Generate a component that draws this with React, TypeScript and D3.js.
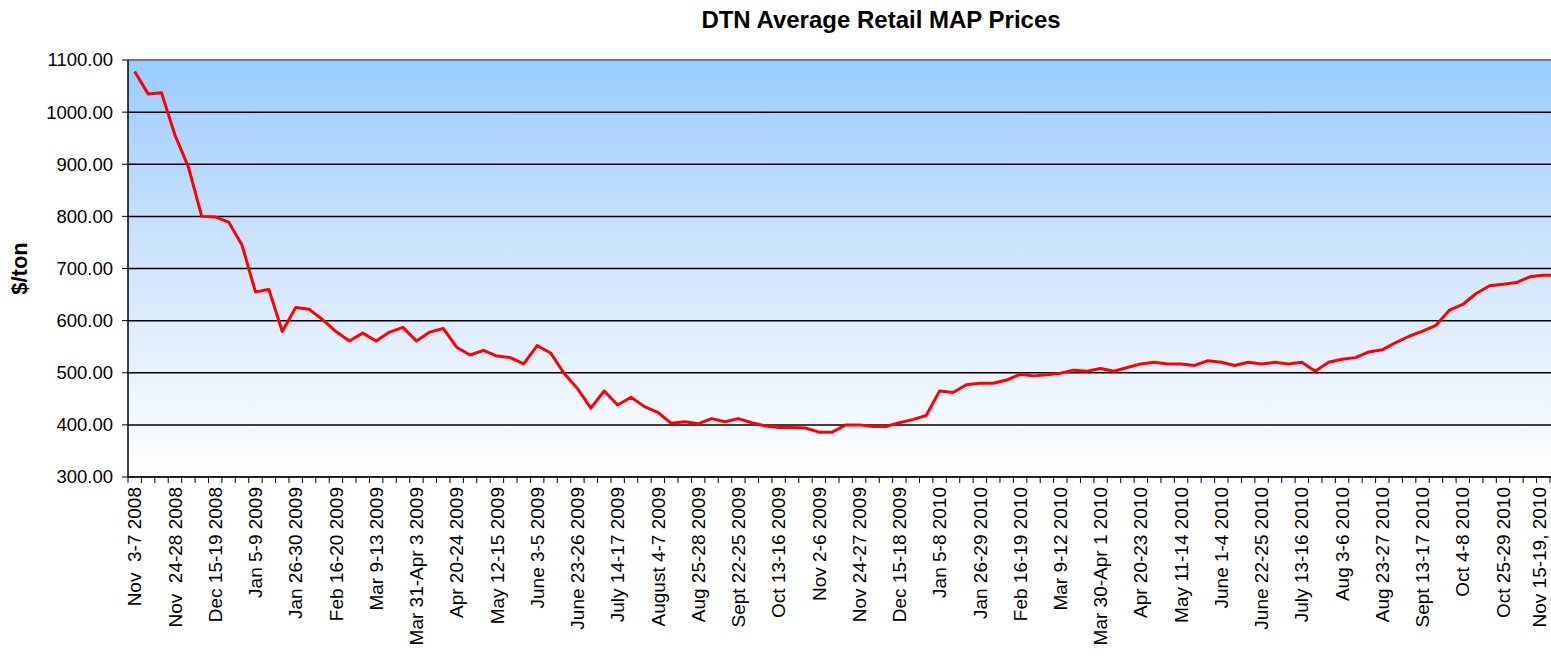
import React from 'react';
import * as d3 from 'd3';

// weekly labels, one every third week
const tickLabels = [
  'Nov  3-7 2008', 'Nov  24-28 2008', 'Dec 15-19 2008', 'Jan 5-9 2009', 'Jan 26-30 2009',
  'Feb 16-20 2009', 'Mar 9-13 2009', 'Mar 31-Apr 3 2009', 'Apr 20-24 2009', 'May 12-15 2009',
  'June 3-5 2009', 'June 23-26 2009', 'July 14-17 2009', 'August 4-7 2009', 'Aug 25-28 2009',
  'Sept 22-25 2009', 'Oct 13-16 2009', 'Nov 2-6 2009', 'Nov 24-27 2009', 'Dec 15-18 2009',
  'Jan 5-8 2010', 'Jan 26-29 2010', 'Feb 16-19 2010', 'Mar 9-12 2010', 'Mar 30-Apr 1 2010',
  'Apr 20-23 2010', 'May 11-14 2010', 'June 1-4 2010', 'June 22-25 2010', 'July 13-16 2010',
  'Aug 3-6 2010', 'Aug 23-27 2010', 'Sept 13-17 2010', 'Oct 4-8 2010', 'Oct 25-29 2010',
  'Nov 15-19, 2010'
];

const prices = [
  1078, 1035, 1037, 956, 895, 800, 799, 789, 745, 655,
  660, 579, 625, 622, 602, 579, 561, 576, 561, 578,
  587, 561, 578, 585, 549, 534, 543, 532, 529, 517,
  552, 538, 499, 470, 432, 465, 438, 453, 435, 424,
  403, 406, 402, 412, 406, 412, 404, 398, 395, 395,
  394, 386, 386, 400, 400, 397, 397, 404, 410, 418,
  465, 462, 477, 480, 480, 486, 497, 494, 496, 499,
  505, 503, 508, 503, 510, 517, 520, 517, 517, 514,
  523, 520, 514, 520, 517, 520, 517, 520, 503, 520,
  526, 529, 540, 544, 558, 570, 580, 591, 620, 631,
  652, 667, 670, 673, 684, 687, 687
];

const yTicks = [300, 400, 500, 600, 700, 800, 900, 1000, 1100];

const W = 1551;
const H = 656;
const font = '"Liberation Sans", Arial, sans-serif';

export default function App() {
  const left = 128, top = 60, bottom = 477;
  const step = 13.415;

  const x = d3.scaleBand<number>()
    .domain(prices.map((_, i) => i))
    .range([left, left + step * prices.length])
    .paddingInner(0).paddingOuter(0);
  const bw = x.bandwidth();
  const cx = (i: number) => (x(i) as number) + bw / 2;

  const y = d3.scaleLinear().domain([300, 1100]).range([bottom, top]);

  const line = d3.line<number>()
    .x((_, i) => cx(i))
    .y(d => y(d));

  const right = W + 10;

  return (
    <svg width={W} height={H} style={{display: 'block'}}>
      <style>{'body{margin:0}'}</style>
      <defs>
        <linearGradient id="bg" x1="0" y1="0" x2="0" y2="1">
          <stop offset="0" stopColor="#99ccff"/>
          <stop offset="0.5" stopColor="#d2e6fc"/>
          <stop offset="1" stopColor="#ffffff"/>
        </linearGradient>
        <clipPath id="plot">
          <rect x={left} y={top - 5} width={W - left} height={bottom - top + 10}/>
        </clipPath>
      </defs>

      <text x={881} y={28} textAnchor="middle" fontFamily={font} fontSize={24}
            fontWeight="bold">DTN Average Retail MAP Prices</text>

      <rect x={left} y={top} width={right - left} height={bottom - top} fill="url(#bg)"/>

      {yTicks.map(t => (
        <g key={t}>
          {t > 300 && t < 1100 &&
            <line x1={left} x2={right} y1={y(t)} y2={y(t)} stroke="#000" strokeWidth={1.5}/>}
          <line x1={left - 6} x2={left} y1={y(t)} y2={y(t)} stroke="#000" strokeWidth={1}/>
          <text x={left - 15} y={y(t)} dy="0.35em" textAnchor="end" fontFamily={font}
                fontSize={18.5}>{t.toFixed(2)}</text>
        </g>
      ))}

      <line x1={left} x2={right} y1={top} y2={top} stroke="#777" strokeWidth={2}/>
      <line x1={left} x2={right} y1={bottom} y2={bottom} stroke="#222" strokeWidth={2}/>
      <line x1={left} x2={left} y1={top} y2={bottom} stroke="#000" strokeWidth={1.5}/>

      {prices.map((_, i) => (
        <line key={i} x1={x(i) as number} x2={x(i) as number} y1={bottom} y2={bottom + 6}
              stroke="#000" strokeWidth={1}/>
      ))}

      <path d={line(prices) || ''} fill="none" stroke="#ff0000" strokeWidth={3}
            strokeLinejoin="round" clipPath="url(#plot)"/>

      {tickLabels.map((lab, k) => {
        const px = Math.min(cx(k * 3), W - 12);
        return (
          <text key={lab} transform={`translate(${px},${bottom + 10}) rotate(-90)`}
                textAnchor="end" dy="0.35em" fontFamily={font} fontSize={19}
                style={{whiteSpace: 'pre'}}>{lab}</text>
        );
      })}

      <text transform={`translate(27,${(top + bottom) / 2}) rotate(-90)`} textAnchor="middle"
            fontFamily={font} fontSize={22} fontWeight="bold">$/ton</text>
    </svg>
  );
}
